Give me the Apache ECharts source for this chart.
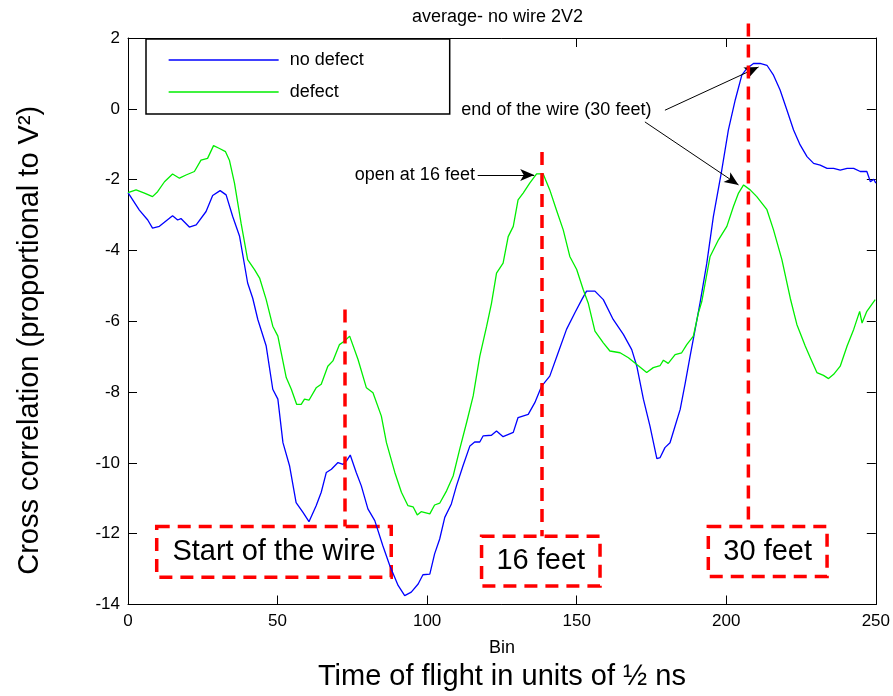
<!DOCTYPE html>
<html>
<head>
<meta charset="utf-8">
<script src="https://cdn.jsdelivr.net/npm/echarts@6/dist/echarts.min.js"></script>
<style>
  html, body { margin: 0; padding: 0; background: #fff; }
  #chart { width: 893px; height: 696px; }
</style>
</head>
<body>
<div id="chart"></div>
<script>
// no defect (blue) - bin / value
var noDefectBins = [0, 3.8, 6.6, 8.2, 10.5, 14.9, 16.6, 17.7, 20.5, 22.8, 26.1, 28.3, 30.8, 32.8, 35, 37.3, 40, 41.7, 43.4, 46.2,
  48.4, 50.1, 51.8, 54, 56.2, 58.5, 60.5, 62.9, 64.6, 66.3, 68, 70.2, 71.9, 73, 74.3, 76.3, 78, 80.2, 82.5, 85.2,
  87.5, 90.3, 92.5, 94.7, 97, 98.6, 100.9, 102.5, 104.2, 105.9, 108.1, 109.8, 112, 114.3, 115.9, 117.6, 118.7, 121.5, 123.2, 125.4,
  128.8, 130.4, 133.8, 136, 138.3, 141, 143.8, 146.6, 149.4, 151.7, 153.3, 156.1, 158.9, 162.2, 165.6, 168.4, 170.1, 172.3, 174.5, 176.8,
  177.9, 179.5, 181.2, 182.9, 184.6, 186.3, 187.9, 189.6, 191.3, 193.5, 195.7, 198.5, 200.7, 203, 205.2, 206.9, 209.1, 211.3, 213.6, 215.8,
  218, 220.3, 222.5, 224.7, 227, 229.2, 231.4, 233.7, 235.9, 238.1, 240.4, 242.6, 244.8, 247, 248.2, 249.3, 250]
var noDefectValues = [-2.37, -2.86, -3.14, -3.37, -3.32, -3.02, -3.14, -3.1, -3.34, -3.28, -2.9, -2.45, -2.31, -2.43, -3.04, -3.6, -4.92, -5.35, -5.95, -6.7,
  -7.92, -8.2, -9.43, -10.08, -11.12, -11.4, -11.66, -11.21, -10.83, -10.27, -10.18, -9.99, -10.04, -9.95, -9.78, -10.27, -10.65, -11.3, -11.63, -12.34,
  -12.9, -13.46, -13.75, -13.65, -13.42, -13.16, -13.14, -12.57, -12.15, -11.54, -11.16, -10.65, -10.08, -9.52, -9.41, -9.41, -9.24, -9.22, -9.1, -9.26,
  -9.14, -8.72, -8.63, -8.3, -7.83, -7.55, -6.89, -6.23, -5.76, -5.39, -5.15, -5.15, -5.39, -5.95, -6.37, -6.8, -7.27, -8.2, -8.96, -9.88,
  -9.85, -9.57, -9.43, -8.96, -8.49, -7.74, -6.99, -6.23, -5.45, -4.36, -3.04, -1.73, -0.6, 0.25, 0.95, 1.14, 1.28, 1.28, 1.23, 0.95,
  0.53, -0.04, -0.6, -1.02, -1.35, -1.54, -1.59, -1.68, -1.68, -1.73, -1.68, -1.68, -1.77, -1.77, -2.06, -1.99, -2.1]

// defect (green)
var defectBins = [0, 2.7, 5.5, 8.2, 9.9, 12.2, 14.9, 17.2, 19.4, 22.2, 24.4, 26.6, 28.6, 30.6, 32.6, 33.9, 35.6, 37.8, 40, 42.3,
  44, 46.2, 48.4, 50.1, 52.9, 54.6, 56.4, 57.9, 59, 60.5, 62.9, 64.6, 66.8, 68.5, 70.7, 72.4, 74.1, 76.9, 79.7, 81.9,
  84.7, 86.4, 89.2, 91.4, 93.6, 95.3, 96.7, 98, 100.9, 102.5, 104.2, 106.5, 108.7, 110.9, 113.2, 115.4, 117.6, 119.9, 121.5, 123.2,
  125.4, 127.1, 128.8, 130.4, 132.1, 134.3, 136.6, 138.8, 141, 143.2, 145.5, 147.7, 150, 152.2, 153.9, 156.1, 158.9, 161.1, 164.5, 167.3,
  170.1, 173.4, 175.6, 177.9, 179, 180.6, 182.9, 185.1, 186.8, 189, 190.7, 191.8, 194.6, 197.4, 200.2, 202.4, 204.1, 205.8, 208, 210.2,
  213.6, 215.8, 218.6, 221.4, 223.6, 226.4, 228.1, 230.3, 232.5, 234.2, 235.9, 238.1, 240.4, 242.6, 244.6, 245.4, 247, 249.8]
var defectValues = [-2.37, -2.29, -2.38, -2.48, -2.34, -2.06, -1.84, -1.96, -1.87, -1.77, -1.45, -1.4, -1.04, -1.12, -1.21, -1.45, -2.1, -3.23, -4.26, -4.54,
  -4.78, -5.39, -6.14, -6.42, -7.59, -7.92, -8.35, -8.35, -8.2, -8.23, -7.88, -7.78, -7.27, -7.12, -6.66, -6.56, -6.42, -7.08, -7.88, -8.02,
  -8.68, -9.43, -10.27, -10.83, -11.21, -11.24, -11.47, -11.38, -11.44, -11.19, -11.14, -10.79, -10.37, -9.61, -8.86, -8.11, -6.99, -6.14, -5.5, -4.64,
  -4.36, -3.61, -3.32, -2.57, -2.38, -2.1, -1.84, -1.84, -2.29, -2.85, -3.42, -4.17, -4.54, -5.11, -5.5, -6.28, -6.61, -6.84, -6.89, -7.03,
  -7.22, -7.45, -7.31, -7.25, -7.1, -7.19, -6.94, -6.89, -6.66, -6.42, -5.76, -5.45, -4.17, -3.7, -3.32, -2.76, -2.38, -2.15, -2.29, -2.48,
  -2.85, -3.42, -4.26, -5.35, -6.09, -6.7, -7.03, -7.45, -7.53, -7.62, -7.5, -7.27, -6.7, -6.23, -5.72, -6.05, -5.72, -5.39]

// red dashed markers: [bin, top, bottom]
var markerLines = [[72.5, -5.67, -11.8], [138.3, -1.22, -12.07], [207.4, 2.41, -11.8]]
// red dashed boxes: [label, x1, y1, x2, y2]
var markerBoxes = [
  ['Start of the wire', 9.6, -11.8, 88.0, -13.23],
  ['16 feet', 118.2, -12.07, 157.8, -13.48],
  ['30 feet', 194.0, -11.8, 233.7, -13.21]
]
// arrows: [x1, y1, x2, y2]
var arrows = [[116.9, -1.87, 135.8, -1.87], [179.5, -0.04, 210.8, 1.18], [172.8, -0.37, 204.1, -2.15]]
// notes: [text, x, y]
var notes = [['open at 16 feet', 95.9, -1.87], ['end of the wire (30 feet)', 143.2, -0.04]]

var yMax = 2

function zip (xs, ys) {
  var out = []
  for (var i = 0; i < xs.length; i++) out.push([xs[i], ys[i]])
  return out
}

var fontFamily = '"Liberation Sans", Arial, sans-serif'
var red = '#ff0000'
var redDash = { color: red, width: 3.5, type: [13, 8] }

// markers that stay inside the grid go to markLine, taller ones are drawn after init
var markLineData = []
markerLines.forEach(function (m) {
  if (m[1] > yMax) return
  markLineData.push([
    { coord: [m[0], m[1]], symbol: 'none', lineStyle: redDash },
    { coord: [m[0], m[2]], symbol: 'none' }
  ])
})
arrows.forEach(function (a) {
  markLineData.push([
    { coord: [a[0], a[1]], symbol: 'none', lineStyle: { color: '#000', width: 1, type: 'solid' } },
    { coord: [a[2], a[3]], symbol: 'arrow', symbolSize: [9, 14] }
  ])
})

var markAreaData = markerBoxes.map(function (b) {
  return [{ name: b[0], coord: [b[1], b[2]] }, { coord: [b[3], b[4]] }]
})

var markPointData = notes.map(function (n) {
  return { coord: [n[1], n[2]], value: n[0], label: { formatter: n[0] } }
})

var axisCommonX = {
  type: 'value',
  min: 0,
  max: 250,
  interval: 50,
  axisLine: { onZero: false, lineStyle: { color: '#000', width: 1 } },
  axisTick: { inside: true, length: 9, lineStyle: { color: '#000' } },
  splitLine: { show: false }
}
var axisCommonY = {
  type: 'value',
  min: -14,
  max: yMax,
  interval: 2,
  axisLine: { onZero: false, lineStyle: { color: '#000', width: 1 } },
  axisTick: { inside: true, length: 9, lineStyle: { color: '#000' } },
  splitLine: { show: false }
}

var option = {
  animation: false,
  backgroundColor: '#fff',
  textStyle: { fontFamily: fontFamily },
  title: {
    text: 'average- no wire 2V2',
    left: 412,
    top: 8,
    padding: 0,
    textStyle: { fontSize: 18, fontWeight: 'normal', color: '#000', fontFamily: fontFamily }
  },
  legend: {
    data: ['no defect', 'defect'],
    orient: 'vertical',
    left: 146,
    top: 39,
    padding: [12, 86, 13, 22],
    itemWidth: 110,
    itemHeight: 16,
    itemGap: 14,
    borderColor: '#000',
    borderWidth: 1.5,
    borderRadius: 0,
    backgroundColor: '#fff',
    itemStyle: { opacity: 0 },
    lineStyle: { width: 1.3 },
    textStyle: { fontSize: 18, color: '#000', padding: [0, 0, 0, 6], lineHeight: 16 }
  },
  grid: { left: 128, right: 17, top: 38, bottom: 90 },
  xAxis: [
    Object.assign({}, axisCommonX, {
      position: 'bottom',
      axisLabel: { color: '#000', fontSize: 17, margin: 8 },
      name: '{bin|Bin}\n{big|Time of flight in units of ½ ns}',
      nameLocation: 'middle',
      nameGap: 33,
      nameTextStyle: {
        color: '#000',
        rich: {
          bin: { fontSize: 18, lineHeight: 22, color: '#000' },
          big: { fontSize: 29, lineHeight: 34, color: '#000' }
        }
      }
    }),
    Object.assign({}, axisCommonX, { position: 'top', axisLabel: { show: false } })
  ],
  yAxis: [
    Object.assign({}, axisCommonY, {
      position: 'left',
      axisLabel: { color: '#000', fontSize: 17, margin: 8 },
      name: 'Cross correlation (proportional to V²)',
      nameLocation: 'middle',
      nameGap: 84,
      nameTextStyle: { color: '#000', fontSize: 29, padding: [0, 38, 0, 0] }
    }),
    Object.assign({}, axisCommonY, { position: 'right', axisLabel: { show: false } })
  ],
  series: [
    {
      name: 'no defect',
      type: 'line',
      data: zip(noDefectBins, noDefectValues),
      symbol: 'none',
      color: '#0000ff',
      lineStyle: { color: '#0000ff', width: 1.3 }
    },
    {
      name: 'defect',
      type: 'line',
      data: zip(defectBins, defectValues),
      symbol: 'none',
      color: '#00ff00',
      lineStyle: { color: '#00ee00', width: 1.3 },
      markArea: {
        silent: true,
        itemStyle: { color: 'rgba(0,0,0,0)', borderColor: red, borderWidth: 3.5, borderType: [13, 8] },
        label: { show: true, position: 'inside', fontSize: 29, color: '#000', fontFamily: fontFamily },
        data: markAreaData
      },
      markLine: {
        silent: true,
        animation: false,
        label: { show: false },
        data: markLineData
      },
      markPoint: {
        silent: true,
        symbol: 'circle',
        symbolSize: 0,
        label: { show: true, position: 'inside', fontSize: 18, color: '#000', fontFamily: fontFamily },
        data: markPointData
      }
    }
  ]
}

var myChart = echarts.init(document.getElementById('chart'))
myChart.setOption(option)

// the 30 feet marker pokes above the plot frame, so place it through the grid scale
var extraLines = []
markerLines.forEach(function (m) {
  if (m[1] <= yMax) return
  var p1 = myChart.convertToPixel({ gridIndex: 0 }, [m[0], m[1]])
  var p2 = myChart.convertToPixel({ gridIndex: 0 }, [m[0], m[2]])
  extraLines.push({
    type: 'line',
    silent: true,
    z: 10,
    shape: { x1: p1[0], y1: p1[1], x2: p2[0], y2: p2[1] },
    style: { stroke: red, lineWidth: 3.5, lineDash: [13, 8] }
  })
})
myChart.setOption({ graphic: extraLines })
</script>
</body>
</html>
